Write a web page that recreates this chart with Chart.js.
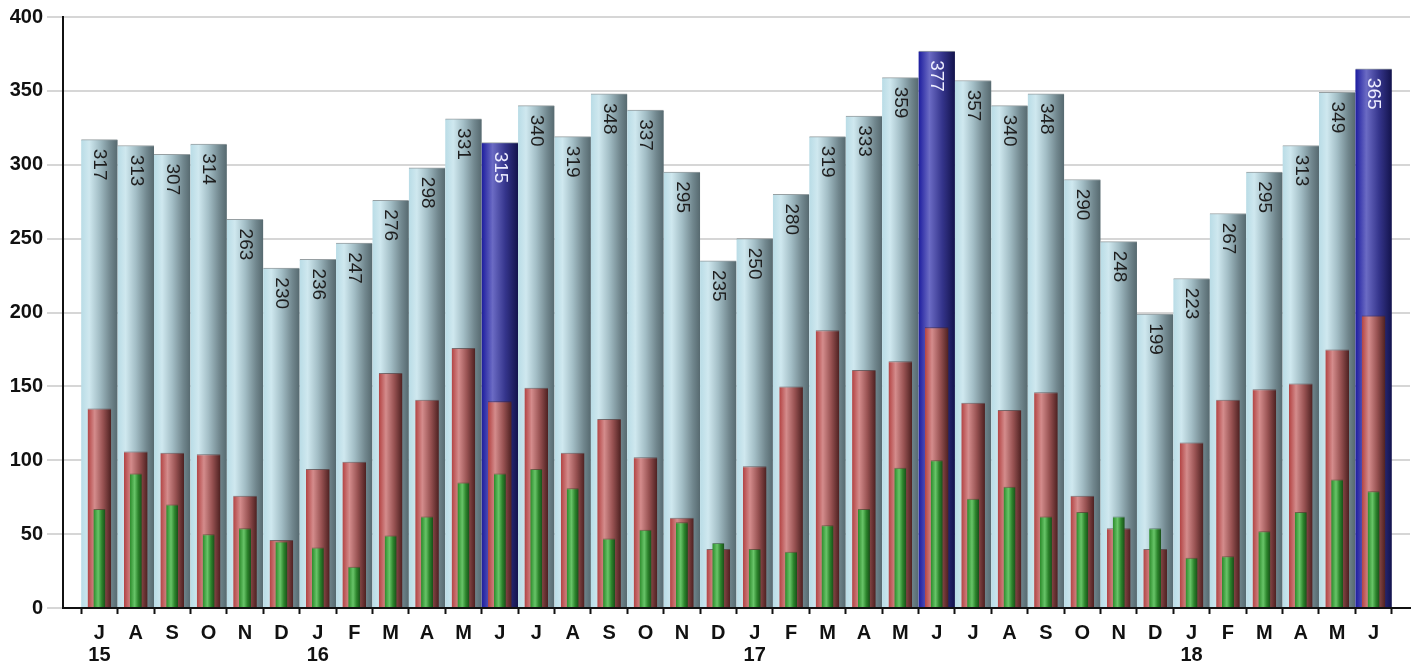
<!DOCTYPE html>
<html>
<head>
<meta charset="utf-8">
<script src="https://cdn.jsdelivr.net/npm/chart.js@4/dist/chart.umd.min.js"></script>
<style>
  html, body { margin: 0; padding: 0; background: #fff; }
  #wrap { width: 1418px; height: 663px; position: relative; }
</style>
</head>
<body>
<div id="wrap"><canvas id="chart"></canvas></div>
<script>
// Monthly figures, July 2015 – June 2018
const months = ['J','A','S','O','N','D',
  'J','F','M','A','M','J','J','A','S','O','N','D',
  'J','F','M','A','M','J','J','A','S','O','N','D',
  'J','F','M','A','M','J'];
const years = ['15','','','','','',
  '16','','','','','','','','','','','',
  '17','','','','','','','','','','','',
  '18','','','','',''];

// total per month (wide bars, labelled)
const totals = [317,313,307,314,263,230,236,247,276,298,331,315,
  340,319,348,337,295,235,250,280,319,333,359,377,
  357,340,348,290,248,199,223,267,295,313,349,365];
// middle series (red bars)
const partA = [135,106,105,104,76,46,94,99,159,141,176,140,
  149,105,128,102,61,40,96,150,188,161,167,190,
  139,134,146,76,54,40,112,141,148,152,175,198];
// inner series (green bars)
const partB = [67,91,70,50,54,45,41,28,49,62,85,91,
  94,81,47,53,58,44,40,38,56,67,95,100,
  74,82,62,65,62,54,34,35,52,65,87,79];

// months drawn in dark blue
const highlighted = [11, 23, 35];

// one empty slot on each side of the months
const pad = arr => [null, ...arr, null];
const labels = pad(months.map((m, i) => i));

function gradientFill(stops, pct) {
  return function (ctx) {
    const chart = ctx.chart;
    const xs = chart.scales && chart.scales.x;
    if (!xs || !chart.chartArea) return stops[0][1];
    const step = xs.getPixelForValue(1) - xs.getPixelForValue(0);
    const cx = xs.getPixelForValue(ctx.dataIndex);
    const w = step * pct;
    const g = chart.ctx.createLinearGradient(cx - w / 2, 0, cx + w / 2, 0);
    stops.forEach(s => g.addColorStop(s[0], s[1]));
    return g;
  };
}

const lightStops = [[0,'#b9dce6'],[0.22,'#cfe8ef'],[0.5,'#a3bec6'],[0.8,'#71878e'],[1,'#56696f']];
const darkStops  = [[0,'#1c1c9e'],[0.3,'#6b6bc4'],[0.65,'#35358c'],[1,'#13134c']];
const redStops   = [[0,'#b24242'],[0.3,'#d48c8c'],[0.65,'#985252'],[1,'#4c2020']];
const greenStops = [[0,'#2a8a2a'],[0.4,'#68c468'],[0.7,'#2c842c'],[1,'#184e18']];

const totalPct = 1.0, redPct = 0.65, greenPct = 0.33;
const lightFill = gradientFill(lightStops, totalPct);
const darkFill = gradientFill(darkStops, totalPct);

const valueLabels = {
  id: 'valueLabels',
  afterDatasetsDraw(chart) {
    const meta = chart.getDatasetMeta(2);
    const c = chart.ctx;
    meta.data.forEach((el, i) => {
      const v = chart.data.datasets[2].data[i];
      if (v == null) return;
      c.save();
      c.translate(el.x, el.y + 25);
      c.rotate(Math.PI / 2);
      c.font = '19px "Liberation Sans", Arial, sans-serif';
      c.textAlign = 'center';
      c.textBaseline = 'middle';
      c.fillStyle = highlighted.includes(i - 1) ? '#eeeeff' : '#1e1e1e';
      c.fillText(String(v), 0, 0);
      c.restore();
    });
  }
};

new Chart(document.getElementById('chart'), {
  type: 'bar',
  data: {
    labels: labels,
    datasets: [
      {
        label: 'B',
        data: pad(partB),
        grouped: false,
        categoryPercentage: 1,
        barPercentage: greenPct,
        backgroundColor: gradientFill(greenStops, greenPct),
        borderColor: 'rgba(20,60,20,0.5)',
        borderWidth: { top: 1, left: 0, right: 0, bottom: 0 }
      },
      {
        label: 'A',
        data: pad(partA),
        grouped: false,
        categoryPercentage: 1,
        barPercentage: redPct,
        backgroundColor: gradientFill(redStops, redPct),
        borderColor: 'rgba(70,30,30,0.6)',
        borderWidth: { top: 1, left: 0, right: 0, bottom: 0 }
      },
      {
        label: 'Total',
        data: pad(totals),
        grouped: false,
        categoryPercentage: 1,
        barPercentage: totalPct,
        backgroundColor: ctx => highlighted.includes(ctx.dataIndex - 1) ? darkFill(ctx) : lightFill(ctx),
        borderColor: 'rgba(80,95,100,0.6)',
        borderWidth: { top: 1, left: 0, right: 0, bottom: 0 }
      }
    ]
  },
  options: {
    responsive: true,
    maintainAspectRatio: false,
    animation: false,
    layout: { padding: { top: 17, right: 4, left: 0, bottom: 0 } },
    plugins: { legend: { display: false }, tooltip: { enabled: false } },
    scales: {
      x: {
        offset: false,
        afterFit: s => { s.height = 55; },
        grid: {
          drawOnChartArea: false,
          drawTicks: true,
          tickLength: 6,
          tickColor: '#111',
          tickWidth: 2
        },
        border: { color: '#111', width: 2 },
        ticks: {
          autoSkip: false,
          maxRotation: 0,
          padding: 8,
          color: '#111',
          font: { family: '"Liberation Sans", Arial, sans-serif', size: 20, weight: 'bold', lineHeight: 1.1 },
          callback: function (value, index) {
            const i = this.getLabelForValue(value);
            if (i === null || i === undefined || i === '') return '';
            const k = Number(i);
            return years[k] ? [months[k], years[k]] : months[k];
          }
        }
      },
      y: {
        min: 0,
        max: 400,
        afterFit: s => { s.width = 63; },
        grid: {
          color: '#d6d6d6',
          lineWidth: 2,
          tickLength: 16,
          tickColor: '#d6d6d6'
        },
        border: { color: '#111', width: 2 },
        ticks: {
          stepSize: 50,
          padding: 4,
          color: '#111',
          font: { family: '"Liberation Sans", Arial, sans-serif', size: 20, weight: 'bold' }
        }
      }
    }
  },
  plugins: [valueLabels]
});
</script>
</body>
</html>
